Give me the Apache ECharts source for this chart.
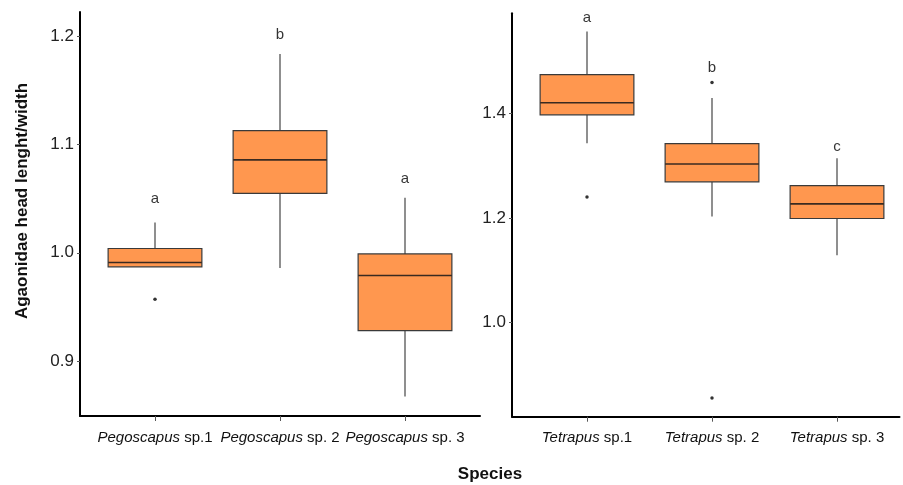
<!DOCTYPE html>
<html>
<head>
<meta charset="utf-8">
<script src="https://cdn.jsdelivr.net/npm/echarts@6/dist/echarts.min.js"></script>
<style>
  html, body { margin: 0; padding: 0; background: #fff; }
  #chart { width: 903px; height: 485px; }
</style>
</head>
<body>
<div id="chart"></div>
<script>
// Pegoscapus panel: [x, min, Q1, median, Q3, max]
const pegoGenus = 'Pegoscapus'
const pegoSp = ['sp.1', 'sp. 2', 'sp. 3']
const pegoBoxes = [
  [1, 0.987, 0.987, 0.991, 1.004, 1.028],
  [2, 0.986, 1.055, 1.086, 1.113, 1.184],
  [3, 0.867, 0.928, 0.979, 0.999, 1.051]
]
const pegoOutliers = [[1, 0.957]]
const pegoLetters = [[1, 1.050, 'a'], [2, 1.202, 'b'], [3, 1.068, 'a']]
const pegoTicks = [0.9, 1.0, 1.1, 1.2]

// Tetrapus panel
const tetraGenus = 'Tetrapus'
const tetraSp = ['sp.1', 'sp. 2', 'sp. 3']
const tetraBoxes = [
  [1, 1.343, 1.397, 1.420, 1.474, 1.556],
  [2, 1.203, 1.269, 1.303, 1.342, 1.429],
  [3, 1.129, 1.199, 1.227, 1.262, 1.314]
]
const tetraOutliers = [[1, 1.240], [2, 1.459], [2, 0.856]]
const tetraLetters = [[1, 1.583, 'a'], [2, 1.486, 'b'], [3, 1.336, 'c']]
const tetraTicks = [1.0, 1.2, 1.4]

const FONT = 'Liberation Sans, Arial, sans-serif'

const chart = echarts.init(document.getElementById('chart'))

// box drawn by hand (no whisker end caps, like the original figure)
function renderBox(params, api) {
  const x = api.value(0)
  const hw = api.size([1, 0])[0] * 0.375
  const pMin = api.coord([x, api.value(1)])
  const pQ1 = api.coord([x, api.value(2)])
  const pMed = api.coord([x, api.value(3)])
  const pQ3 = api.coord([x, api.value(4)])
  const pMax = api.coord([x, api.value(5)])
  const whisker = { stroke: '#6a6a6a', lineWidth: 1.5 }
  return {
    type: 'group',
    children: [
      { type: 'line', shape: { x1: pMax[0], y1: pMax[1], x2: pQ3[0], y2: pQ3[1] }, style: whisker },
      { type: 'line', shape: { x1: pQ1[0], y1: pQ1[1], x2: pMin[0], y2: pMin[1] }, style: whisker },
      {
        type: 'rect',
        shape: { x: pQ3[0] - hw, y: pQ3[1], width: hw * 2, height: pQ1[1] - pQ3[1] },
        style: { fill: '#FF974F', stroke: '#3a3a3a', lineWidth: 1.2 }
      },
      {
        type: 'line',
        shape: { x1: pMed[0] - hw, y1: pMed[1], x2: pMed[0] + hw, y2: pMed[1] },
        style: { stroke: '#3a2a20', lineWidth: 1.6 }
      }
    ]
  }
}

function xAxisFor(gridIndex, genus, sp, max) {
  return {
    type: 'value',
    gridIndex: gridIndex,
    min: 0.4,
    max: max,
    splitLine: { show: false },
    axisLine: { show: true, onZero: false, lineStyle: { color: '#000', width: 2 } },
    axisTick: { show: true, customValues: [1, 2, 3], length: 5, lineStyle: { color: '#555' } },
    axisLabel: {
      show: true,
      customValues: [1, 2, 3],
      margin: 14,
      fontFamily: FONT,
      fontSize: 15,
      color: '#111',
      formatter: v => '{i|' + genus + '} ' + sp[Math.round(v) - 1],
      rich: { i: { fontStyle: 'italic', fontFamily: FONT, fontSize: 15, color: '#111' } }
    }
  }
}

function yAxisFor(gridIndex, min, max, ticks) {
  return {
    type: 'value',
    gridIndex: gridIndex,
    min: min,
    max: max,
    splitLine: { show: false },
    axisLine: { show: true, onZero: false, lineStyle: { color: '#000', width: 2 } },
    axisTick: { show: true, customValues: ticks, length: 3, lineStyle: { color: '#555' } },
    axisLabel: {
      show: true,
      customValues: ticks,
      margin: 6,
      fontFamily: FONT,
      fontSize: 17,
      color: '#222',
      formatter: v => v.toFixed(1)
    }
  }
}

function letterSeries(axisIndex, data) {
  return {
    type: 'scatter',
    xAxisIndex: axisIndex,
    yAxisIndex: axisIndex,
    symbolSize: 0,
    data: data,
    label: {
      show: true,
      position: 'inside',
      formatter: p => p.value[2],
      fontFamily: FONT,
      fontSize: 15,
      color: '#000',
      textBorderWidth: 0
    },
    silent: true
  }
}

function outlierSeries(axisIndex, data) {
  return {
    type: 'scatter',
    xAxisIndex: axisIndex,
    yAxisIndex: axisIndex,
    symbol: 'circle',
    symbolSize: 3.5,
    itemStyle: { color: '#000' },
    data: data
  }
}

const option = {
  backgroundColor: '#fff',
  animation: false,
  textStyle: { fontFamily: FONT },
  grid: [
    { left: 80, width: 400, top: 12, bottom: 69 },
    { left: 512, width: 387.5, top: 13.3, bottom: 68.3 }
  ],
  xAxis: [
    xAxisFor(0, pegoGenus, pegoSp, 3.6),
    xAxisFor(1, tetraGenus, tetraSp, 3.5)
  ],
  yAxis: [
    yAxisFor(0, 0.849, 1.2228, pegoTicks),
    yAxisFor(1, 0.8204, 1.591, tetraTicks)
  ],
  graphic: [
    {
      type: 'text',
      x: 22,
      y: 201,
      rotation: Math.PI / 2,
      style: {
        text: 'Agaonidae head lenght/width',
        font: 'bold 17px ' + FONT,
        fill: '#111',
        align: 'center',
        verticalAlign: 'middle'
      }
    },
    {
      type: 'text',
      x: 490,
      y: 474,
      style: {
        text: 'Species',
        font: 'bold 17px ' + FONT,
        fill: '#111',
        align: 'center',
        verticalAlign: 'middle'
      }
    }
  ],
  series: [
    {
      type: 'custom',
      xAxisIndex: 0,
      yAxisIndex: 0,
      renderItem: renderBox,
      encode: { x: 0, y: [1, 2, 3, 4, 5] },
      data: pegoBoxes
    },
    {
      type: 'custom',
      xAxisIndex: 1,
      yAxisIndex: 1,
      renderItem: renderBox,
      encode: { x: 0, y: [1, 2, 3, 4, 5] },
      data: tetraBoxes
    },
    outlierSeries(0, pegoOutliers),
    outlierSeries(1, tetraOutliers),
    letterSeries(0, pegoLetters),
    letterSeries(1, tetraLetters)
  ]
}

chart.setOption(option)
</script>
</body>
</html>
